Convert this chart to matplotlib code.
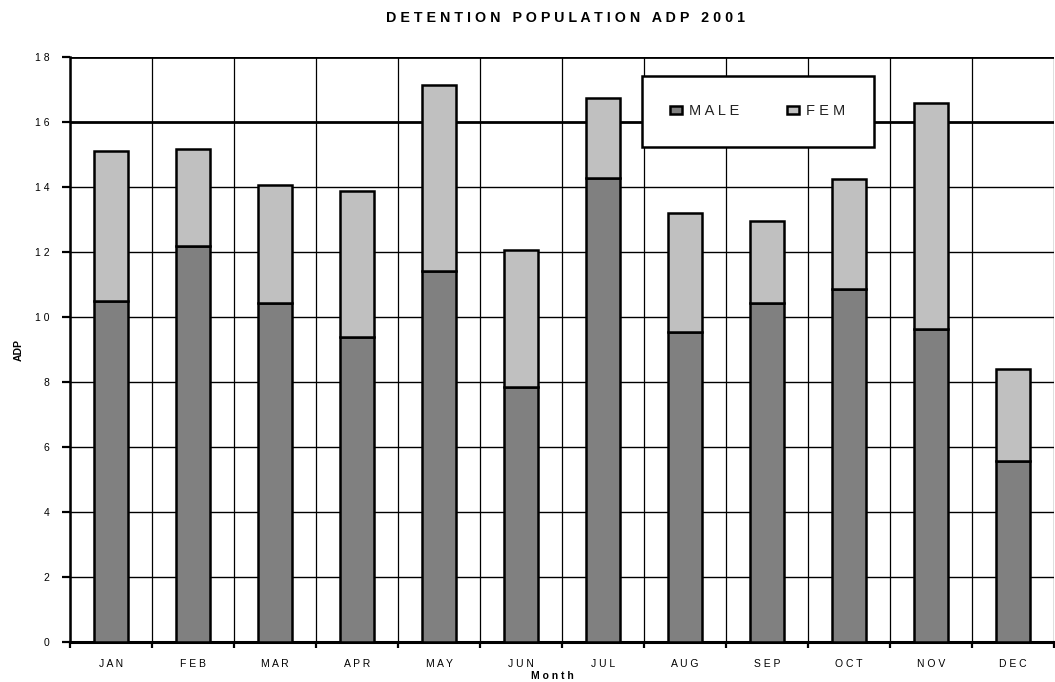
import numpy as np
import matplotlib
matplotlib.use("Agg")
from matplotlib import pyplot as plt

# monthly average daily population, split by sex
months = ["JAN", "FEB", "MAR", "APR", "MAY", "JUN",
          "JUL", "AUG", "SEP", "OCT", "NOV", "DEC"]
male = [10.5, 12.2, 10.43, 9.4, 11.43, 7.86, 14.28, 9.54, 10.45, 10.87, 9.63, 5.58]
total = [15.12, 15.17, 14.08, 13.9, 17.15, 12.06, 16.75, 13.22, 12.97, 14.27, 16.58, 8.42]
fem = [t - m for t, m in zip(total, male)]


def spaced(s):
   # old spreadsheet style: letters spread apart
   return " ".join(s)


plt.rcParams['font.family'] = ['Liberation Sans', 'DejaVu Sans']

fig = plt.figure(figsize=(10.55, 6.82), dpi=100)
ax = fig.add_axes([70 / 1055, (682 - 642.3) / 682, 984 / 1055, 585 / 682])

x = np.arange(len(months))
ax.bar(x, male, width=0.42, color='#808080', edgecolor='black', linewidth=1.8,
       label=spaced("MALE"), zorder=3)
ax.bar(x, fem, width=0.42, bottom=male, color='#c0c0c0', edgecolor='black',
       linewidth=1.8, label=spaced("FEM"), zorder=3)

# スケール
ax.set_xlim(-0.5, len(months) - 0.5)
ax.set_ylim(0, 18)

# y axis: ticks every 2, letter-spaced labels
yt = list(range(0, 19, 2))
ax.set_yticks(yt)
ax.set_yticklabels([spaced(str(v)) for v in yt], fontsize=7.5)
ax.tick_params(axis='y', direction='out', length=6, width=1.6, pad=9)

# x axis: labels at the bar centres, tick marks between months
ax.set_xticks(x)
ax.set_xticklabels([spaced(m) for m in months], fontsize=7.5)
ax.set_xticks(np.arange(-0.5, len(months), 1.0), minor=True)
ax.tick_params(axis='x', which='major', length=0, pad=12)
ax.tick_params(axis='x', which='minor', direction='out', length=4, width=1.6)

# gridlines behind the bars
ax.set_axisbelow(True)
ax.grid(axis='y', which='major', color='black', linewidth=1.0)
ax.grid(axis='x', which='minor', color='black', linewidth=0.9)
for line, v in zip(ax.get_ygridlines(), yt):
   if v >= 16:
      line.set_linewidth(2.0)

for side in ['top', 'right']:
   ax.spines[side].set_visible(False)
ax.spines['left'].set_linewidth(1.8)
ax.spines['bottom'].set_linewidth(2.2)

ax.set_ylabel("ADP", fontsize=7.5, fontweight='bold', labelpad=8)
ax.set_xlabel(spaced("Month"), fontsize=7.5, fontweight='bold')
ax.xaxis.label.set_verticalalignment('center')
ax.xaxis.set_label_coords(0.49, -0.057)

fig.text(565 / 1055, 1 - 18 / 682,
         "   ".join(spaced(w) for w in "DETENTION POPULATION ADP 2001".split()),
         fontsize=10.3, fontweight='bold', ha='center', va='center')

leg = ax.legend(loc='center', bbox_to_anchor=(0.699, 0.908), ncol=2,
                fontsize=10.5, frameon=True, fancybox=False, framealpha=1,
                edgecolor='black', borderpad=1.95, handlelength=0.8,
                handleheight=0.55, handletextpad=0.5, columnspacing=3.3)
leg.get_frame().set_linewidth(1.8)
leg.set_zorder(5)
for txt in leg.get_texts():
   txt.set_color('#222222')

fig.savefig("out.png", dpi=100)
plt.close()
